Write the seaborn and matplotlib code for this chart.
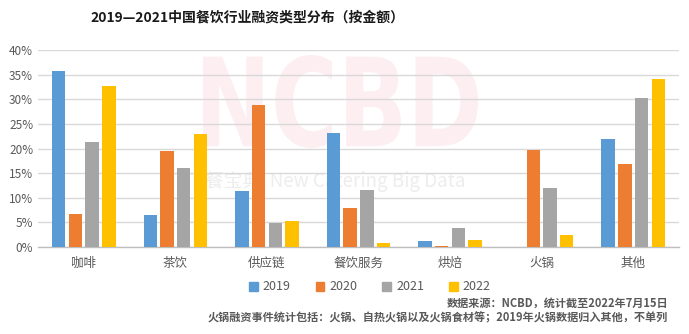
import matplotlib
matplotlib.use("Agg")
import matplotlib.pyplot as plt
from matplotlib.textpath import TextPath
from matplotlib.patches import PathPatch
from matplotlib.font_manager import FontProperties
from matplotlib.transforms import Affine2D
from matplotlib.ticker import PercentFormatter
import seaborn as sns
import pandas as pd

categories = ["咖啡", "茶饮", "供应链", "餐饮服务", "烘焙", "火锅", "其他"]
years = ["2019", "2020", "2021", "2022"]
share_2019 = [35.7, 6.5, 11.4, 23.1, 1.2, 0.0, 21.9]
share_2020 = [6.8, 19.5, 28.8, 7.9, 0.2, 19.7, 16.8]
share_2021 = [21.4, 16.0, 4.9, 11.5, 3.9, 12.0, 30.2]
share_2022 = [32.7, 22.9, 5.3, 0.8, 1.5, 2.4, 34.1]
colors = ["#5B9BD5", "#ED7D31", "#A5A5A5", "#FFC000"]

title = "2019—2021中国餐饮行业融资类型分布（按金额）"
source_note = "数据来源：NCBD，统计截至2022年7月15日"
scope_note = "火锅融资事件统计包括：火锅、自热火锅以及火锅食材等；2019年火锅数据归入其他，不单列"

df = pd.DataFrame({
    "category": categories * 4,
    "year": sum([[y] * len(categories) for y in years], []),
    "share": share_2019 + share_2020 + share_2021 + share_2022,
})

sns.set_theme(style="white")
plt.rcParams["font.family"] = ["Noto Sans CJK SC", "DejaVu Sans"]

W, H = 689, 334
fig = plt.figure(figsize=(W / 100, H / 100), dpi=100)
ax = fig.add_axes([38 / W, (H - 247) / H, (679 - 38) / W, (247 - 50) / H])
ax.set_facecolor("none")

sns.barplot(data=df, x="category", y="share", hue="year", hue_order=years,
            palette=colors, saturation=1, width=0.73, gap=0.2, ax=ax,
            legend=False, edgecolor="none", zorder=3)

ax.set_ylim(0, 40)
ax.set_xlim(-0.5, len(categories) - 0.5)
ax.set_yticks(range(0, 41, 5))
ax.yaxis.set_major_formatter(PercentFormatter(decimals=0))
ax.grid(axis="y", color="#D9D9D9", linewidth=1.0, zorder=0)
ax.set_axisbelow(True)
for s in ["top", "right", "left"]:
    ax.spines[s].set_visible(False)
ax.spines["bottom"].set_color("#BFBFBF")
ax.spines["bottom"].set_linewidth(1.0)
ax.tick_params(axis="both", length=0, colors="#595959", labelsize=8.5)
ax.tick_params(axis="x", pad=7, labelsize=9)
ax.set_xlabel("")
ax.set_ylabel("")

# Watermark: large pink "NCBD" plus a gray tagline behind the bars
tp = TextPath((0, 0), "NCBD", size=1, prop=FontProperties(family="DejaVu Sans", weight="bold"))
ext = tp.get_extents()
x0, x1, y0, y1 = 203, 478, H - 148, H - 55
tr = (Affine2D().translate(-ext.x0, -ext.y0)
      .scale((x1 - x0) / ext.width, (y1 - y0) / ext.height)
      .translate(x0, y0))
fig.add_artist(PathPatch(tr.transform_path(tp), facecolor="#FDEEF1",
                         edgecolor="none", transform=None, zorder=-2))
fig.text(205 / W, 1 - 182 / H, "餐宝典  New Catering Big Data", fontsize=13.5,
         color="#EDEDED", ha="left", va="center", zorder=-1)

fig.text(247 / W, 1 - 18 / H, title, fontsize=10, fontweight="bold",
         color="#1A1A1A", ha="center", va="center")

handles = [plt.Rectangle((0, 0), 1, 1, color=c) for c in colors]
fig.legend(handles, years, loc="center", bbox_to_anchor=(370 / W, 1 - 287 / H),
           ncol=4, frameon=False, fontsize=9, handlelength=0.7, handleheight=0.7,
           handletextpad=0.4, columnspacing=2.0, labelcolor="#595959")

fig.text(668 / W, 1 - 303 / H, source_note, fontsize=8, fontweight="bold",
         color="#595959", ha="right", va="center")
fig.text(668 / W, 1 - 318 / H, scope_note, fontsize=8, fontweight="bold",
         color="#595959", ha="right", va="center")

fig.savefig("out.png", dpi=100)
